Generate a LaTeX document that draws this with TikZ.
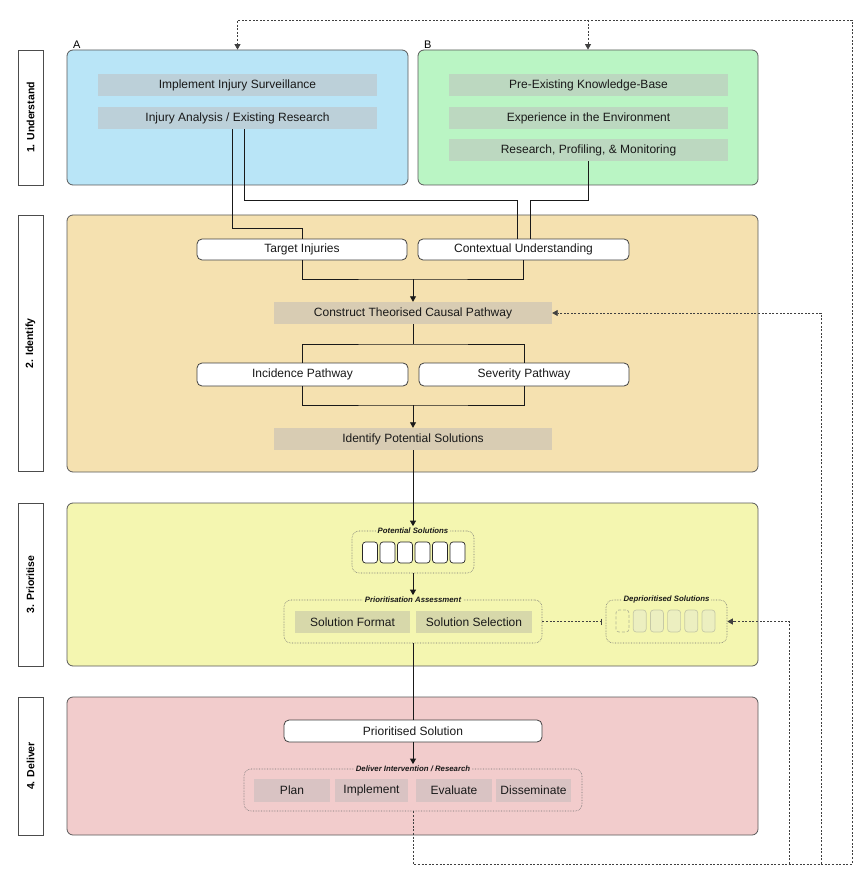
\documentclass[tikz,border=0pt]{standalone}
\usepackage{fontspec}
\setmainfont{Liberation Sans}
\usetikzlibrary{arrows.meta,calc}
\definecolor{cA}{HTML}{B9E5F7}
\definecolor{cAi}{HTML}{BCD0D9}
\definecolor{cB}{HTML}{BAF5C4}
\definecolor{cBi}{HTML}{BCD8C0}
\definecolor{cI}{HTML}{F5E1B0}
\definecolor{cIi}{HTML}{D8CCB3}
\definecolor{cP}{HTML}{F4F6B0}
\definecolor{cPi}{HTML}{D7D8AA}
\definecolor{cD}{HTML}{F2CCCC}
\definecolor{cDi}{HTML}{D9C3C3}
\definecolor{cDep}{HTML}{ECEFC0}
\definecolor{cDepB}{HTML}{C6C9A6}
\begin{document}
\begin{tikzpicture}[x=1pt,y=-1pt,
  panel/.style={draw=black!65, line width=0.8pt, rounded corners=6pt, inner sep=0pt},
  lab/.style={draw=black!70, fill=white, line width=0.8pt, rotate=90, inner sep=0pt,
    font=\fontsize{10.5}{12}\selectfont\bfseries},
  item/.style={minimum height=22pt, inner sep=0pt, font=\fontsize{12}{14}\selectfont, text=black!90},
  wbox/.style={item, draw=black!75, fill=white, rounded corners=5pt, line width=0.8pt},
  grp/.style={draw=black!55, densely dotted, rounded corners=7pt, line width=0.6pt, inner sep=0pt},
  gtitle/.style={font=\fontsize{7.8}{9}\selectfont\bfseries\itshape, inner sep=1.5pt, text=black!90},
  sbox/.style={draw=black!85, fill=white, rounded corners=3pt, line width=0.7pt,
    minimum width=15pt, minimum height=21pt, inner sep=0pt},
  dbox/.style={draw=cDepB, fill=cDep, rounded corners=3pt, line width=0.7pt,
    minimum width=13pt, minimum height=22pt, inner sep=0pt},
  conn/.style={draw=black!90, line width=0.8pt},
  arr/.style={conn, -{Triangle[width=6pt,length=5.5pt]}},
  fb/.style={draw=black!75, line width=0.7pt, dash pattern=on 2pt off 1.6pt},
  fbarr/.style={fb, -{Triangle[width=6pt,length=5.5pt]}}
]
\useasboundingbox (0,0) rectangle (861,885);

% stage labels
\node[lab, minimum width=135pt, minimum height=25pt] (l1) at (30.5,117.5) {1. Understand};
\node[lab, minimum width=256pt, minimum height=25pt] (l2) at (30.5,343.5) {2. Identify};
\node[lab, minimum width=163pt, minimum height=25pt] (l3) at (30.5,584.5) {3. Prioritise};
\node[lab, minimum width=138pt, minimum height=25pt] (l4) at (30.5,766) {4. Deliver};

% panels
\node[panel, fill=cA, minimum width=341pt, minimum height=135pt] (pA) at (237.5,117.5) {};
\node[panel, fill=cB, minimum width=340pt, minimum height=135pt] (pB) at (588,117.5) {};
\node[panel, fill=cI, minimum width=691pt, minimum height=257pt] (pI) at (412.5,343.5) {};
\node[panel, fill=cP, minimum width=691pt, minimum height=163pt] (pP) at (412.5,584.5) {};
\node[panel, fill=cD, minimum width=691pt, minimum height=138pt] (pD) at (412.5,766) {};

\node[font=\fontsize{11}{12}\selectfont, anchor=south west, inner sep=0pt] (la) at (73,49) {A};
\node[font=\fontsize{11}{12}\selectfont, anchor=south west, inner sep=0pt] (lb) at (424,49) {B};

% Understand A
\node[item, fill=cAi, minimum width=279pt] (sur) at (237.5,85) {Implement Injury Surveillance};
\node[item, fill=cAi, minimum width=279pt] (ana) at (237.5,118) {Injury Analysis / Existing Research};
% Understand B
\node[item, fill=cBi, minimum width=279pt] (kb) at (588.5,85) {Pre-Existing Knowledge-Base};
\node[item, fill=cBi, minimum width=279pt] (exp) at (588.5,118) {Experience in the Environment};
\node[item, fill=cBi, minimum width=279pt] (res) at (588.5,150) {Research, Profiling, \& Monitoring};

% Identify
\node[wbox, minimum width=210pt, minimum height=21pt] (tgt) at (302,249.5) {Target Injuries};
\node[wbox, minimum width=211pt, minimum height=21pt] (ctx) at (523.5,249.5) {Contextual Understanding};
\node[item, fill=cIi, minimum width=278pt] (con) at (413,313) {Construct Theorised Causal Pathway};
\node[wbox, minimum width=211pt, minimum height=23pt] (inc) at (302.5,374.5) {Incidence Pathway};
\node[wbox, minimum width=210pt, minimum height=23pt] (sev) at (524,374.5) {Severity Pathway};
\node[item, fill=cIi, minimum width=278pt] (ips) at (413,439) {Identify Potential Solutions};

% Prioritise
\node[grp, minimum width=122pt, minimum height=42pt] (pg) at (413,552) {};
\node[gtitle, fill=cP] (pgt) at (pg.north) {Potential Solutions};
\foreach \i in {0,...,5} {
  \node[sbox] (ps\i) at (370+17.5*\i,552.5) {};
}
\node[grp, minimum width=258pt, minimum height=43pt] (ag) at (413,621.5) {};
\node[gtitle, fill=cP] (agt) at (ag.north) {Prioritisation Assessment};
\node[item, fill=cPi, minimum width=115pt] (fmt) at (352.5,622) {Solution Format};
\node[item, fill=cPi, minimum width=116pt] (sel) at (474,622) {Solution Selection};

\node[grp, minimum width=121pt, minimum height=43pt] (dep) at (666.5,621.5) {};
\node[gtitle, fill=cP] (dept) at (dep.north) {Deprioritised Solutions};
\node[dbox, fill=none, draw=cDepB!90!black, densely dashed] (ds0) at (622.5,621) {};
\foreach \i in {1,...,5} {
  \node[dbox] (ds\i) at (622.5+17.2*\i,621) {};
}

% Deliver
\node[wbox, minimum width=258pt] (psol) at (413,731) {Prioritised Solution};
\node[grp, minimum width=338pt, minimum height=42pt] (dg) at (413,790) {};
\node[gtitle, fill=cD] (dgt) at (dg.north) {Deliver Intervention / Research};
\node[item, fill=cDi, minimum width=76pt, minimum height=23pt] (plan) at (292,790.5) {Plan};
\node[item, fill=cDi, minimum width=73pt, minimum height=23pt] (impl) at (371.5,790.5) {Implement};
\node[item, fill=cDi, minimum width=76pt, minimum height=23pt] (eval) at (454,790.5) {Evaluate};
\node[item, fill=cDi, minimum width=75pt, minimum height=23pt] (diss) at (533.5,790.5) {Disseminate};

% solid connectors
\coordinate (t1) at (232,228);
\draw[conn] (t1 |- ana.south) -- (t1) -| (tgt.north);
\coordinate (t2) at (244,200);
\draw[conn] (t2 |- ana.south) -- (t2) -| ([xshift=-6.5pt]ctx.north);
\coordinate (t3) at (588,200);
\draw[conn] (t3 |- res.south) -- (t3) -| ([xshift=6.5pt]ctx.north);

\coordinate (j1) at (413,279);
\draw[conn] (tgt.south) |- (j1) -| (ctx.south);
\draw[arr] (j1) -- (con.north);
\coordinate (j2) at (413,344);
\draw[conn] (con.south) -- (j2);
\draw[conn] (inc.north) |- (j2) -| (sev.north);
\coordinate (j3) at (413,405);
\draw[conn] (inc.south) |- (j3) -| (sev.south);
\draw[arr] (j3) -- (ips.north);
\draw[arr] (ips.south) -- (pgt.north);
\draw[arr] (pg.south) -- (agt.north);
\draw[conn] (ag.south) -- (psol.north);
\draw[arr] (psol.south) -- (dgt.north);

% feedback (dashed)
\coordinate (f1) at (852,864);
\coordinate (f2) at (852,20);
\coordinate (fc) at (821,864);
\coordinate (fd) at (789,864);
\draw[fbarr] (dg.south) |- (f1) -- (f2) -| (pA.north);
\draw[fbarr] (pB.north |- f2) -- (pB.north);
\draw[fbarr] (fc) |- (con.east);
\draw[fbarr] (fd) |- (dep.east);
\draw[fb, -{Bar[width=6pt]}] (ag.east) -- ([xshift=-4pt]dep.west);
\end{tikzpicture}
\end{document}
